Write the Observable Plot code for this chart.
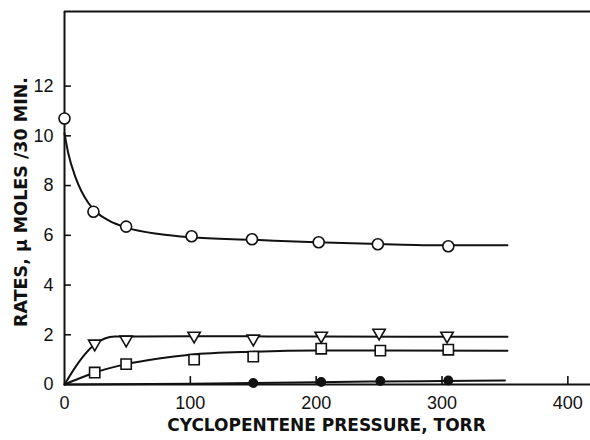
<!DOCTYPE html>
<html>
<head>
<meta charset="utf-8">
<script src="https://cdn.jsdelivr.net/npm/d3@7"></script>
<script src="https://cdn.jsdelivr.net/npm/@observablehq/plot@0.6"></script>
<style>
  html, body { margin: 0; padding: 0; background: #fff; }
  #chart svg { display: block; }
</style>
</head>
<body>
<div id="chart"></div>
<script>
// ---- data ----
const xTicks = [0, 100, 200, 300, 400];
const yTicks = [0, 2, 4, 6, 8, 10, 12];
const xLabel = "CYCLOPENTENE PRESSURE, TORR";
const yLabel = "RATES, \u03bc MOLES /30 MIN.";

// open circles
const circX = [0, 23, 49, 101, 149, 202, 249, 305];
const circY = [10.7, 6.95, 6.35, 5.96, 5.84, 5.72, 5.64, 5.56];
const circCurveX = [0, 3, 9, 19, 25, 35, 50, 75, 100, 150, 200, 250, 300, 352];
const circCurveY = [10.1, 9.3, 8.3, 7.3, 6.95, 6.6, 6.3, 6.05, 5.92, 5.82, 5.72, 5.65, 5.6, 5.6];

// inverted triangles
const triX = [24, 49, 103, 150, 204, 250, 304];
const triY = [1.64, 1.8, 1.96, 1.84, 1.96, 2.08, 1.96];
const triCurveX = [0, 8, 16, 24, 32, 40, 100, 200, 352];
const triCurveY = [0, 0.65, 1.2, 1.62, 1.85, 1.93, 1.94, 1.93, 1.92];

// open squares
const sqX = [24, 49, 103, 150, 204, 251, 305];
const sqY = [0.48, 0.82, 1.0, 1.12, 1.44, 1.36, 1.4];
const sqCurveX = [0, 12, 24, 49, 75, 100, 150, 200, 250, 352];
const sqCurveY = [0, 0.25, 0.48, 0.82, 1.05, 1.2, 1.32, 1.37, 1.37, 1.36];

// filled circles
const fillX = [150, 204, 251, 305];
const fillY = [0.06, 0.1, 0.14, 0.16];
const fillCurveX = [0, 100, 150, 200, 250, 300, 350];
const fillCurveY = [0, 0.03, 0.06, 0.09, 0.12, 0.14, 0.16];

const pts = (xs, ys) => xs.map((x, i) => ({x, y: ys[i]}));

const ink = "#111";
const numFont = "'Liberation Sans', Arial, sans-serif";
const titleFont = "'DejaVu Sans', sans-serif";

const chart = Plot.plot({
  width: 590,
  height: 440,
  marginLeft: 64,
  marginRight: 0,
  marginTop: 11,
  marginBottom: 56,
  style: {background: "#fff", color: ink, fontFamily: numFont},
  x: {domain: [0, 418]},
  y: {domain: [0, 15]},
  marks: [
    // frame: top, left, bottom
    Plot.ruleY([15], {stroke: ink, strokeWidth: 2.2}),
    Plot.ruleX([0], {stroke: ink, strokeWidth: 2}),
    Plot.ruleY([0], {stroke: ink, strokeWidth: 2}),
    // inward ticks
    Plot.ruleY(yTicks.filter(d => d > 0), {x1: 0, x2: 5.5, stroke: ink, strokeWidth: 1.6}),
    Plot.ruleX(xTicks.filter(d => d > 0), {y1: 0, y2: 0.32, stroke: ink, strokeWidth: 1.6}),
    // tick labels
    Plot.axisY({ticks: yTicks, tickSize: 0, tickPadding: 11, fontSize: 18, label: null}),
    Plot.axisX({ticks: xTicks, tickSize: 0, tickPadding: 12, fontSize: 18, label: null}),
    // axis titles
    Plot.text([xLabel], {frameAnchor: "bottom", textAnchor: "middle", dx: -1, dy: 46, fontSize: 17, fontWeight: "bold", fontFamily: titleFont, fill: ink}),
    Plot.text([yLabel], {frameAnchor: "left", textAnchor: "middle", rotate: -90, dx: -43, dy: 4, fontSize: 17.5, fontWeight: "bold", fontFamily: titleFont, fill: ink}),
    // curves
    Plot.line(pts(circCurveX, circCurveY), {x: "x", y: "y", curve: "monotone-x", stroke: ink, strokeWidth: 2}),
    Plot.line(pts(triCurveX, triCurveY), {x: "x", y: "y", curve: "monotone-x", stroke: ink, strokeWidth: 2}),
    Plot.line(pts(sqCurveX, sqCurveY), {x: "x", y: "y", curve: "monotone-x", stroke: ink, strokeWidth: 2}),
    Plot.line(pts(fillCurveX, fillCurveY), {x: "x", y: "y", curve: "monotone-x", stroke: ink, strokeWidth: 2}),
    // markers
    Plot.dot(pts(circX, circY), {x: "x", y: "y", r: 5.5, fill: "#fff", stroke: ink, strokeWidth: 1.6}),
    Plot.dot(pts(sqX, sqY), {x: "x", y: "y", symbol: "square", r: 5.8, fill: "#fff", stroke: ink, strokeWidth: 1.6}),
    Plot.dot(pts(triX, triY), {x: "x", y: "y", symbol: "triangle", rotate: 180, r: 4.6, fill: "#fff", stroke: ink, strokeWidth: 1.6}),
    Plot.dot(pts(fillX, fillY), {x: "x", y: "y", r: 4.2, fill: ink, stroke: ink})
  ]
});

document.getElementById("chart").appendChild(chart);
</script>
</body>
</html>
